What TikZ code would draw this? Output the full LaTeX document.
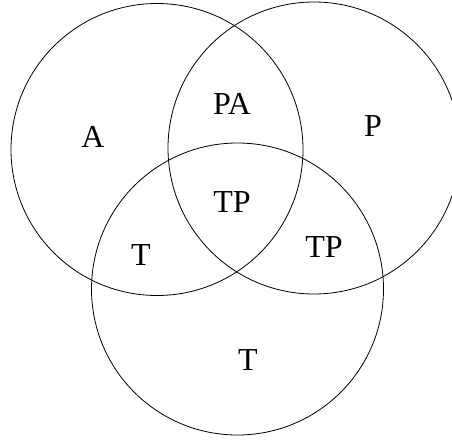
\documentclass[tikz,border=0pt]{standalone}
\usepackage{fontspec}
\setmainfont{Liberation Serif}
\usetikzlibrary{positioning}

\begin{document}
\begin{tikzpicture}[x=1pt,y=1pt]
\tikzset{
  venn/.style={draw, circle, line width=0.8pt, minimum size=292pt, inner sep=0pt},
  lbl/.style={font=\fontsize{32}{35}\selectfont}
}
\useasboundingbox (0,0) rectangle (452,-439);

% circles
\node[venn] (circA) at (157, -149.5) {};
\node[venn] (circP) at (314, -148) {};
\node[venn] (circT) at (237.5, -289) {};

% labels
\node[lbl] (lA) at (93, -137) {A};
\node[lbl] (lPA) at (232, -104) {PA};
\node[lbl] (lP) at (373, -126) {P};
\node[lbl] (lTP) at (232, -202) {TP};
\node[lbl] (lT) at (141, -255) {T};
\node[lbl] (lTP2) at (324, -247) {TP};
\node[lbl] (lT2) at (248, -360) {T};

\end{tikzpicture}
\end{document}
